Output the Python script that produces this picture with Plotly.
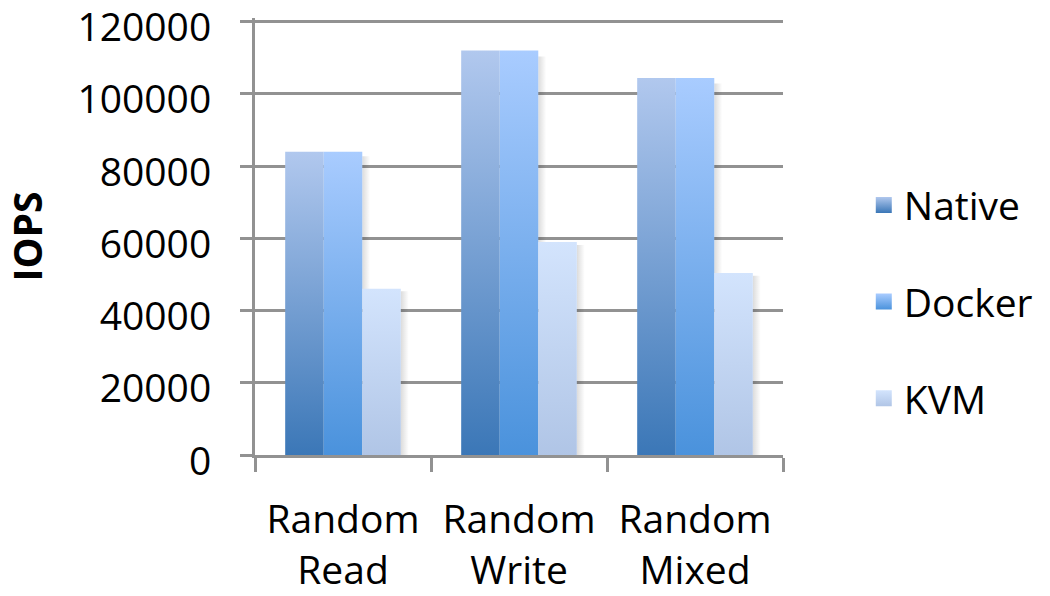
import plotly.graph_objects as go

# Workload categories (x axis) and IOPS per platform
categories = ["Random<br>Read", "Random<br>Write", "Random<br>Mixed"]
series_names = ["Native", "Docker", "KVM"]
native_iops = [84000, 112000, 104400]
docker_iops = [84000, 112000, 104400]
kvm_iops = [46000, 59000, 50400]
y_tick_values = [0, 20000, 40000, 60000, 80000, 100000, 120000]

series_values = [native_iops, docker_iops, kvm_iops]

# bottom -> top gradient colours for each platform
gradients = [
    ("#3b77b7", "#b1c8ee"),
    ("#4a92dc", "#a9ccff"),
    ("#b0c5e6", "#d3e4fd"),
]

BAR_WIDTH = 0.219          # width of one bar, in category units
SHADOW_WIDTH = 0.045       # soft drop shadow to the right of each bar
AXIS_GREY = "#929292"
FONT = "Open Sans"

fig = go.Figure()

# Soft shadows drawn first so the bars sit on top of them
for s, values in enumerate(series_values):
    for i, v in enumerate(values):
        x1 = i + (s - 0.5) * BAR_WIDTH
        fig.add_trace(go.Scatter(
            x=[x1, x1 + SHADOW_WIDTH, x1 + SHADOW_WIDTH, x1, x1],
            y=[0, 0, v * 0.985, v * 0.985, 0],
            mode="none",
            fill="toself",
            fillgradient=dict(type="horizontal",
                              colorscale=[[0, "rgba(0,0,0,0.14)"],
                                          [1, "rgba(0,0,0,0)"]],
                              start=x1, stop=x1 + SHADOW_WIDTH),
            showlegend=False,
            hoverinfo="skip",
            xaxis="x", yaxis="y",
        ))

# Each bar is a filled rectangle so it can carry a vertical colour gradient
for s, (name, values) in enumerate(zip(series_names, series_values)):
    bottom, top = gradients[s]
    for i, v in enumerate(values):
        x0 = i + (s - 1.5) * BAR_WIDTH
        x1 = x0 + BAR_WIDTH
        fig.add_trace(go.Scatter(
            x=[x0, x1, x1, x0, x0],
            y=[0, 0, v, v, 0],
            mode="none",
            fill="toself",
            fillgradient=dict(type="vertical",
                              colorscale=[[0, bottom], [1, top]],
                              start=0, stop=v),
            name=name,
            showlegend=False,
            hovertemplate=f"{name}: {v}<extra></extra>",
            xaxis="x", yaxis="y",
        ))

# Legend entries
for s, name in enumerate(series_names):
    bottom, top = gradients[s]
    fig.add_trace(go.Scatter(
        x=[None], y=[None],
        mode="markers",
        name=name,
        legendgroup=name,
        marker=dict(symbol="square", size=16, color=top,
                    gradient=dict(type="vertical", color=bottom)),
        xaxis="x2", yaxis="y",
    ))

fig.update_layout(
    width=1050,
    height=596,
    margin=dict(l=255, r=265, t=18, b=141),
    paper_bgcolor="white",
    plot_bgcolor="white",
    font=dict(family=FONT, size=39, color="black"),
    xaxis=dict(
        range=[-0.5, 2.5],
        tickvals=[-0.5, 0.5, 1.5, 2.5],
        showticklabels=False,
        ticks="outside", ticklen=14, tickwidth=3, tickcolor=AXIS_GREY,
        showline=True, linewidth=3, linecolor=AXIS_GREY,
        showgrid=False, zeroline=False,
        automargin=False,
    ),
    xaxis2=dict(
        overlaying="x", anchor="y", side="bottom",
        range=[-0.5, 2.5],
        tickvals=[0, 1, 2],
        ticktext=categories,
        ticks="", showline=False, showgrid=False, zeroline=False,
        ticklabelstandoff=38,
        ticklabeloverflow="allow",
        automargin=False,
        tickfont=dict(family=FONT, size=39, color="black"),
    ),
    yaxis=dict(
        range=[0, 121000],
        tickvals=y_tick_values,
        ticktext=[str(t) for t in y_tick_values],
        ticks="outside", ticklen=12, tickwidth=3, tickcolor=AXIS_GREY,
        showline=True, linewidth=3, linecolor=AXIS_GREY,
        showgrid=True, gridwidth=3, gridcolor=AXIS_GREY,
        zeroline=False,
        ticklabelstandoff=21,
        ticklabelshift=6,
        ticklabeloverflow="allow",
        automargin=False,
        tickfont=dict(family=FONT, size=39, color="black"),
        title=dict(text="<b>IOPS</b>", standoff=27,
                   font=dict(family=FONT, size=39, color="black")),
    ),
    legend=dict(
        x=1.153, xanchor="left",
        y=0.35, yanchor="middle",
        font=dict(family=FONT, size=39, color="black"),
        tracegroupgap=43,
        traceorder="grouped",
        bgcolor="rgba(0,0,0,0)",
    ),
    showlegend=True,
)

fig.write_html("out.html")
